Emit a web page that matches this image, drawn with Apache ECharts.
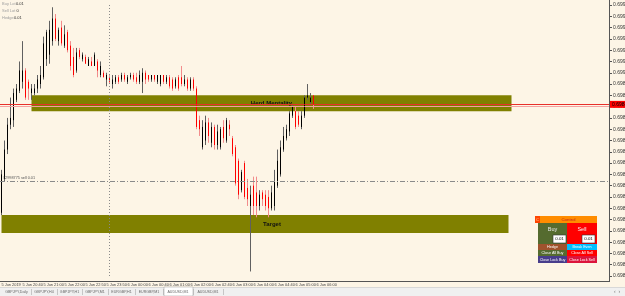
<!DOCTYPE html>
<html><head><meta charset="utf-8">
<script src="https://cdn.jsdelivr.net/npm/echarts@6/dist/echarts.min.js"></script>
<style>html,body{margin:0;padding:0;background:#FDF5E6;overflow:hidden}#c{width:625px;height:296px}</style>
</head><body><div id="c"></div>
<script>
// ---- data (prices, AUDUSD) ----
const opens = [0.69838,0.69853,0.69866,0.69877,0.69879,0.69888,0.69892,0.69896,0.69901,0.69896,
0.69891,0.69891,0.69893,0.69895,0.69898,0.69906,0.69908,0.69914,0.69924,0.69914,
0.69920,0.69912,0.69918,0.69912,0.69907,0.69901,0.69910,0.69906,0.69907,0.69903,
0.69905,0.69903,0.69905,0.69899,0.69900,0.69897,0.69898,0.69895,0.69896,0.69898,
0.69897,0.69899,0.69896,0.69898,0.69899,0.69898,0.69896,0.69896,0.69900,0.69899,
0.69897,0.69899,0.69896,0.69895,0.69899,0.69896,0.69898,0.69897,0.69894,0.69898,
0.69898,0.69895,0.69897,0.69893,0.69897,0.69893,0.69879,0.69867,0.69870,0.69878,
0.69869,0.69876,0.69868,0.69867,0.69876,0.69870,0.69877,0.69871,0.69867,0.69861,
0.69848,0.69860,0.69849,0.69841,0.69850,0.69847,0.69841,0.69847,0.69846,0.69845,
0.69840,0.69841,0.69850,0.69855,0.69866,0.69871,0.69874,0.69881,0.69883,0.69881,
0.69876,0.69881,0.69889,0.69887,0.69890];
const closes = [0.69855,0.69866,0.69877,0.69880,0.69891,0.69893,0.69901,0.69901,0.69889,0.69893,
0.69893,0.69893,0.69897,0.69899,0.69913,0.69918,0.69919,0.69924,0.69915,0.69919,
0.69913,0.69917,0.69910,0.69903,0.69899,0.69909,0.69907,0.69908,0.69904,0.69906,
0.69903,0.69908,0.69901,0.69903,0.69898,0.69899,0.69896,0.69897,0.69898,0.69896,
0.69899,0.69897,0.69898,0.69899,0.69897,0.69896,0.69899,0.69900,0.69897,0.69897,
0.69899,0.69897,0.69899,0.69899,0.69896,0.69898,0.69894,0.69893,0.69897,0.69893,
0.69895,0.69897,0.69893,0.69897,0.69893,0.69876,0.69875,0.69876,0.69878,0.69872,
0.69876,0.69868,0.69874,0.69875,0.69871,0.69879,0.69875,0.69864,0.69851,0.69846,
0.69856,0.69845,0.69844,0.69846,0.69841,0.69841,0.69846,0.69844,0.69841,0.69840,
0.69847,0.69852,0.69861,0.69867,0.69872,0.69875,0.69882,0.69885,0.69876,0.69877,
0.69881,0.69889,0.69890,0.69889,0.69886];
const lows = [0.69837,0.69852,0.69864,0.69875,0.69876,0.69887,0.69891,0.69893,0.69888,0.69888,
0.69888,0.69890,0.69891,0.69893,0.69897,0.69903,0.69904,0.69912,0.69914,0.69912,
0.69912,0.69911,0.69909,0.69901,0.69898,0.69900,0.69906,0.69905,0.69904,0.69903,
0.69903,0.69903,0.69898,0.69898,0.69898,0.69894,0.69895,0.69893,0.69895,0.69895,
0.69896,0.69896,0.69895,0.69897,0.69896,0.69895,0.69895,0.69891,0.69895,0.69896,
0.69896,0.69896,0.69895,0.69894,0.69895,0.69895,0.69893,0.69892,0.69893,0.69892,
0.69894,0.69894,0.69892,0.69892,0.69892,0.69875,0.69872,0.69866,0.69868,0.69869,
0.69867,0.69866,0.69866,0.69866,0.69869,0.69869,0.69872,0.69863,0.69850,0.69844,
0.69847,0.69844,0.69841,0.69812,0.69837,0.69836,0.69839,0.69841,0.69839,0.69836,
0.69839,0.69839,0.69849,0.69854,0.69865,0.69870,0.69872,0.69880,0.69875,0.69876,
0.69875,0.69880,0.69888,0.69886,0.69884];
const highs = [0.69857,0.69870,0.69880,0.69889,0.69893,0.69895,0.69905,0.69914,0.69902,0.69897,
0.69895,0.69895,0.69899,0.69903,0.69916,0.69919,0.69923,0.69929,0.69926,0.69920,
0.69923,0.69921,0.69919,0.69914,0.69911,0.69911,0.69911,0.69909,0.69908,0.69907,
0.69907,0.69909,0.69906,0.69905,0.69901,0.69900,0.69899,0.69899,0.69899,0.69899,
0.69900,0.69900,0.69899,0.69900,0.69900,0.69900,0.69901,0.69902,0.69901,0.69899,
0.69899,0.69899,0.69899,0.69899,0.69899,0.69899,0.69899,0.69898,0.69898,0.69899,
0.69903,0.69899,0.69898,0.69898,0.69898,0.69894,0.69881,0.69879,0.69881,0.69880,
0.69878,0.69877,0.69877,0.69876,0.69879,0.69880,0.69879,0.69872,0.69868,0.69862,
0.69857,0.69861,0.69853,0.69850,0.69854,0.69854,0.69848,0.69848,0.69848,0.69848,
0.69850,0.69857,0.69866,0.69870,0.69876,0.69877,0.69883,0.69886,0.69885,0.69883,
0.69883,0.69890,0.69895,0.69891,0.69890];
const xTickLabels = ['5 Jun 2019','5 Jun 20:40','5 Jun 21:00','5 Jun 22:00','5 Jun 22:50','5 Jun 23:50',
'6 Jun 00:00','6 Jun 00:40','6 Jun 01:00','6 Jun 02:00','6 Jun 02:40','6 Jun 03:00','6 Jun 04:00',
'6 Jun 04:40','6 Jun 05:00','6 Jun 06:00'];
const priceMin = 0.69810, priceMax = 0.69930, priceStep = 0.00005;
const zoneNames = ['Herd Mentality','Target'];
const zoneTop = [0.69890, 0.69837];
const zoneBottom = [0.69883, 0.69829];
const zoneStartBar = [10, 0];
const zoneEndBar = [170, 169];
const bidPrice = 0.69886;
const bidPrice2 = 0.69885;
const orderPrice = 0.69852;
const orderText = '#2998775 sell 0.01';
const daySeparatorBar = 36;
const infoLabels = ['Buy Lot','Sell Lot','Hedge'];
const infoValues = ['0.01','0','0.01'];
const tabs = ['GBPJPY,Daily','GBPJPY,H4','GBPJPY,H1','GBPJPY,M1','EURGBP,H1','EURGBP,M1','AUDUSD,M1','AUDUSD,M1'];
const activeTab = 6;

// ---- build ----
const P = v => Math.round(v * 1e5);
const SLOTS = 203;
const cats = [];
for (let i = 0; i < SLOTS; i++) cats.push(String(i));
const wickData = opens.map((o, i) => [P(o), P(closes[i]), P(lows[i]), P(highs[i])]);
const bodyData = opens.map((o, i) => { const a = P(o), b = P(closes[i]); return [a, b, Math.min(a, b), Math.max(a, b)]; });
const FONT = 'Liberation Sans, Arial, sans-serif';

const graphics = [];
// frame
graphics.push({type:'line', shape:{x1:609.5,y1:0,x2:609.5,y2:281}, style:{stroke:'#555',lineWidth:1}, z:10});
graphics.push({type:'line', shape:{x1:0,y1:281.5,x2:610,y2:281.5}, style:{stroke:'#555',lineWidth:1}, z:10});
// info text
const infoValX = [16, 16.5, 14];
infoLabels.forEach((t, k) => {
  graphics.push({type:'text', x:2, y:1.5 + k*7, style:{text:t, fill:'#a0a0a0', font:'4px ' + FONT}, z:10});
  graphics.push({type:'text', x:infoValX[k], y:1.5 + k*7, style:{text:infoValues[k], fill:'#333', font:'4px ' + FONT}, z:10});
});
// tab bar
graphics.push({type:'rect', shape:{x:0,y:287,width:625,height:9}, style:{fill:'#F0F0F0'}, z:10});
graphics.push({type:'line', shape:{x1:0,y1:287.5,x2:625,y2:287.5}, style:{stroke:'#d8d8d8'}, z:10});
const tabX = [2, 31, 57, 82, 108, 135, 163, 193, 223];
tabs.forEach((t, k) => {
  if (k === activeTab) {
    graphics.push({type:'rect', shape:{x:tabX[k]+1,y:287,width:tabX[k+1]-tabX[k]-1,height:9}, style:{fill:'#fff',stroke:'#999',lineWidth:0.5}, z:11});
  }
  graphics.push({type:'text', x:(tabX[k]+tabX[k+1])/2, y:292, style:{text:t, fill:'#666', font:'3.6px ' + FONT, align:'center', verticalAlign:'middle'}, z:12});
  graphics.push({type:'line', shape:{x1:tabX[k+1]+0.5,y1:289,x2:tabX[k+1]+0.5,y2:295}, style:{stroke:'#aaa',lineWidth:0.6}, z:11});
});
graphics.push({type:'text', x:614, y:289, style:{text:'\u2039  \u203A', fill:'#777', font:'5px ' + FONT}, z:12});
// control panel
function box(x, y, w, h, fill, text, color, fs) {
  graphics.push({type:'rect', shape:{x:x,y:y,width:w,height:h}, style:{fill:fill}, z:20});
  if (text) graphics.push({type:'text', x:x+w/2, y:y+h/2, style:{text:text, fill:color||'#fff', font:(fs||3.7) + 'px ' + FONT, align:'center', verticalAlign:'middle'}, z:21});
}
box(535, 216, 5, 7, '#FF4500', 'C', '#FFD0A0', 4);
box(540, 216, 57, 7, '#FF8C00', 'Control', '#C0201A', 4.4);
box(538, 223, 29, 21, '#556B2F', '', '');
box(567, 223, 30, 21, '#FF0000', '', '');
graphics.push({type:'text', x:552.5, y:229, style:{text:'Buy', fill:'#e8e8e8', font:'5.5px ' + FONT, align:'center', verticalAlign:'middle'}, z:21});
graphics.push({type:'text', x:582, y:229, style:{text:'Sell', fill:'#f4f4f4', font:'5.5px ' + FONT, align:'center', verticalAlign:'middle'}, z:21});
box(553, 235, 13, 8, '#FFFFFF', '0.01', '#000', 4.4);
box(582, 235, 13, 8, '#FFFFFF', '0.01', '#000', 4.4);
graphics.push({type:'rect', shape:{x:553,y:235,width:13,height:8}, style:{fill:'none',stroke:'#333',lineWidth:0.6}, z:22});
graphics.push({type:'rect', shape:{x:582,y:235,width:13,height:8}, style:{fill:'none',stroke:'#333',lineWidth:0.6}, z:22});
box(538, 244, 29, 6, '#A0522D', 'Hedge');
box(567, 244, 30, 6, '#00BFFF', 'Break Even');
box(538, 250, 29, 6, '#556B2F', 'Close All Buy');
box(567, 250, 30, 6, '#FF0000', 'Close All Sell');
box(538, 256, 29, 7, '#483D8B', 'Close Lock Buy');
box(567, 256, 30, 7, '#DC143C', 'Close Lock Sell');

const zoneAreas = zoneNames.map((n, k) => [
  {name:n, xAxis:String(zoneStartBar[k]), yAxis:P(zoneTop[k]),
   label:{offset: k === 1 ? [17, 0] : [0, 0]}},
  {xAxis:String(zoneEndBar[k]), yAxis:P(zoneBottom[k])}
]);

const option = {
  animation: false,
  backgroundColor: '#FDF5E6',
  textStyle: {fontFamily: FONT},
  grid: {left: 0, right: 16, top: 5, bottom: 20, containLabel: false, outerBoundsMode: 'none'},
  xAxis: {
    type: 'category', data: cats, boundaryGap: true,
    axisLine: {show: false}, axisTick: {show: false}, splitLine: {show: false},
    axisLabel: {
      interval: (idx) => idx % 7 === 0 && idx / 7 < xTickLabels.length,
      formatter: (v, idx) => xTickLabels[Math.round(idx / 7)] || '',
      fontSize: 3.9, color: '#444', align: 'left', margin: 7, hideOverlap: false
    }
  },
  yAxis: {
    type: 'value', position: 'right',
    min: P(priceMin), max: P(priceMax), interval: P(priceStep),
    axisLine: {show: false},
    axisTick: {show: true, length: 3, lineStyle: {color: '#555'}},
    splitLine: {show: false},
    axisLabel: {fontSize: 5, color: '#333', margin: 4, formatter: v => (v / 1e5).toFixed(5), showMinLabel: true, showMaxLabel: true}
  },
  graphic: graphics,
  series: [
    {
      type: 'scatter', data: [], z: 1, silent: true,
      markArea: {
        silent: true,
        itemStyle: {color: '#808000', opacity: 1},
        label: {show: true, position: 'inside', color: '#111', fontSize: 6, fontWeight: 'bold', fontFamily: FONT},
        data: zoneAreas
      }
    },
    {
      type: 'scatter', data: [], z: 2, silent: true,
      markLine: {
        silent: true, symbol: ['none', 'none'], animation: false,
        data: [
          {xAxis: String(daySeparatorBar), lineStyle: {color: '#8a8a8a', type: [1, 2], width: 1}, label: {show: false}},
          {yAxis: P(orderPrice), lineStyle: {color: '#8a8a8a', type: [5, 2, 1, 2], width: 1},
           label: {show: true, position: 'insideStartTop', formatter: orderText, fontSize: 3.8, color: '#555', distance: [3, 1]}},
          {yAxis: P(bidPrice2), lineStyle: {color: '#F4A0A0', type: 'solid', width: 1}, label: {show: false}},
          {yAxis: P(bidPrice), lineStyle: {color: '#E8302A', type: 'solid', width: 1},
           label: {show: true, position: 'end', distance: 1, formatter: (bidPrice).toFixed(5), backgroundColor: '#FF0000', color: '#000', fontSize: 5, padding: [1, 2, 1, 2]}}
        ]
      }
    },
    {
      type: 'candlestick', data: wickData, z: 3, barWidth: 1, silent: true,
      itemStyle: {color: '#606060', color0: '#F28C8C', borderColor: '#606060', borderColor0: '#F28C8C', borderWidth: 1}
    },
    {
      type: 'candlestick', data: bodyData, z: 4, barWidth: 1, silent: true,
      itemStyle: {color: '#000000', color0: '#FF0000', borderColor: '#000000', borderColor0: '#FF0000', borderWidth: 1}
    }
  ]
};
const chart = echarts.init(document.getElementById('c'));
chart.setOption(option);
</script>
</body></html>
